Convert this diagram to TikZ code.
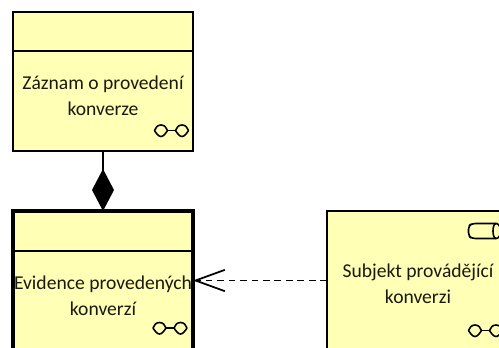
\documentclass[tikz,border=0pt]{standalone}
\usepackage{fontspec}
\setmainfont{Carlito}
\usetikzlibrary{arrows.meta}
\definecolor{archyellow}{RGB}{255,255,181}
\definecolor{archtext}{RGB}{25,25,15}
\tikzset{elem/.style={draw, fill = archyellow,rectangle,line width=1.1pt,minimum width=135pt,minimum height=104.25pt,outer sep=0pt}}
\tikzset{elemthick/.style={elem,line width=2.4pt}}
\tikzset{lbl/.style={align=center,text=archtext,font=\fontsize{14.7}{19.5}\selectfont,inner sep=0pt}}
\tikzset{icon/.style={line width=1.2pt,line join=round}}
\tikzset{
  glasses/.pic={
    \draw[icon] (0,0) .. controls (1,-3) and (3,-5.5) .. (6.5,-5.5) .. controls (10,-5.5) and (12,-3) .. (13,0) .. controls (11,3) and (9,6) .. (6.5,6) .. controls (4,6) and (2,3) .. (0,0) -- cycle;
    \draw[icon] (21,0) .. controls (22,-3) and (24,-5.5) .. (27.5,-5.5) .. controls (31,-5.5) and (33,-3) .. (34,0) .. controls (32,3) and (30,6) .. (27.5,6) .. controls (25,6) and (23,3) .. (21,0) -- cycle;
    \draw[icon] (13,0) -- (21,0);
  }
}
\begin{document}
\begin{tikzpicture}[x=0.75pt,y=-0.75pt]
\useasboundingbox (0,0) rectangle (499,347);
\clip (0,0) rectangle (499,347);
\node[elem] (zaznam) at (103,81.5) {};
\node[elemthick] (evidence) at (103,280.5) {};
\node[elem] (subjekt) at (417,280.5) {};
% header lines
\coordinate (zaznamhead) at (0,51);
\coordinate (evidencehead) at (0,251);
\draw[line width=1.1pt] (zaznam.west |- zaznamhead) -- (zaznam.east |- zaznamhead);
\draw[line width=1.1pt] (evidence.west |- evidencehead) -- (evidence.east |- evidencehead);
% texts
\node[lbl] (zaznamtext) at (103,96) {Záznam o provedení\\konverze};
\node[lbl] (evidencetext) at (103,296) {Evidence provedených\\konverzí};
\node[lbl] (subjekttext) at (418,284) {Subjekt provádějící\\konverzi};
% icons
\pic at (154.5,130.5) {glasses};
\pic at (153,328) {glasses};
\pic at (468.5,330.5) {glasses};
\draw[icon,rounded corners=2.5pt] (496,223.5) -- (472,223.5) -- (468.5,226) -- (468.5,236) -- (472,238.5) -- (496,238.5);
\draw[icon] (496,223.5) .. controls (492,223.5) and (492,238.5) .. (496,238.5) .. controls (502,238.5) and (502,223.5) .. (496,223.5) -- cycle;
% connectors
\draw[line width=1.1pt,-{Diamond[length=31.5pt,width=16.5pt,fill=black]}] (zaznam) -- (evidence);
\draw[line width=1.4pt,dash pattern=on 5pt off 3.6pt,-{Straight Barb[length=22pt,width=16pt,line width=1.3pt]}] (subjekt) -- (evidence);
\end{tikzpicture}
\end{document}
